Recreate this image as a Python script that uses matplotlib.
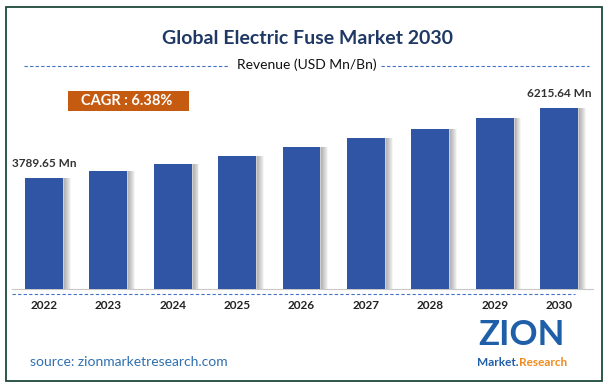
import matplotlib.pyplot as plt
from matplotlib.patches import Rectangle
from matplotlib.lines import Line2D

# data
years = ['2022', '2023', '2024', '2025', '2026', '2027', '2028', '2029', '2030']
revenue = [3789.65, 4031.4, 4288.6, 4562.2, 4853.3, 5163.0, 5492.4, 5842.8, 6215.64]
first_label = '3789.65 Mn'
last_label = '6215.64 Mn'
cagr_text = 'CAGR : 6.38%'

plt.rcParams['font.family'] = ['Lato', 'DejaVu Sans']

fig = plt.figure(figsize=(6.12, 3.88), dpi=100)
W, H = 612.0, 388.0

def fx(px):
    return px / W

def fy(py):
    return 1 - py / H

# outer frame
fig.patches.append(Rectangle((fx(6), fy(381)), fx(596), 374 / H, transform=fig.transFigure,
                             fill=False, edgecolor='#1d4a3a', linewidth=1.3))

# title and subtitle
fig.text(fx(308), fy(39), 'Global Electric Fuse Market 2030', ha='center', va='center',
         fontsize=14, fontweight='bold', color='#1f3864')
fig.text(fx(307), fy(65), 'Revenue (USD Mn/Bn)', ha='center', va='center',
         fontsize=10, color='#111111')
for x0, x1 in [(24, 229), (381, 589)]:
    fig.lines.append(Line2D([fx(x0), fx(x1)], [fy(66), fy(66)], transform=fig.transFigure,
                            color='#4472c4', linestyle=(0, (3, 2)), linewidth=0.8))

# chart axes
ax = fig.add_axes([fx(12), fy(289), fx(581), (289 - 80) / H])
x = list(range(len(years)))
step = 64.4
ax.set_xlim(-(44 - 12) / step, 8 + (593 - 559) / step)
ax.set_ylim(0, 209 / 0.0292)

# soft shadow to the right of each bar
for k in range(7):
    ax.bar([i + 0.295 + k * 0.015 for i in x], revenue, width=0.03, color='#666666',
           alpha=0.30 - k * 0.04, linewidth=0, align='edge')
ax.bar(x, revenue, width=0.59, color='#2f55a4', linewidth=0, zorder=3)

ax.text(x[0], revenue[0] + 330, first_label, ha='center', va='bottom', fontsize=8.5,
        fontweight='bold', color='#333333')
ax.text(x[-1], revenue[-1] + 300, last_label, ha='center', va='bottom', fontsize=8.5,
        fontweight='bold', color='#333333')

for s in ['top', 'right', 'left']:
    ax.spines[s].set_visible(False)
ax.spines['bottom'].set_color('#c8c8c8')
ax.set_yticks([])
ax.set_xticks(x)
ax.set_xticklabels(years, fontsize=8.5, fontweight='bold', color='#222222')
ax.tick_params(axis='x', length=0, pad=8)
ax.patch.set_alpha(0)

# dashed line under the axis
fig.lines.append(Line2D([fx(12), fx(575)], [fy(294), fy(294)], transform=fig.transFigure,
                        color='#4472c4', linestyle=(0, (3, 2)), linewidth=0.8))

# CAGR box
fig.patches.append(Rectangle((fx(68), fy(111)), fx(121), 20 / H, transform=fig.transFigure,
                             facecolor='#c55a11', edgecolor='none'))
fig.text(fx(127), fy(101), cagr_text, ha='center', va='center', fontsize=10.5,
         fontweight='bold', color='white')

# source
fig.text(fx(30), fy(362), 'source: zionmarketresearch.com', ha='left', va='center',
         fontsize=10, color='#2e6fb0')

# logo
fig.text(fx(521), fy(335), 'ZION', ha='center', va='center', fontsize=25,
         fontweight='bold', color='#1f5ea8')
fig.text(fx(519), fy(362), 'Market.', ha='right', va='center', fontsize=8.5,
         fontweight='bold', color='#1f5ea8')
fig.text(fx(519), fy(362), 'Research', ha='left', va='center', fontsize=8.5,
         fontweight='bold', color='#f08a1c')

fig.savefig('out.png', dpi=100)
